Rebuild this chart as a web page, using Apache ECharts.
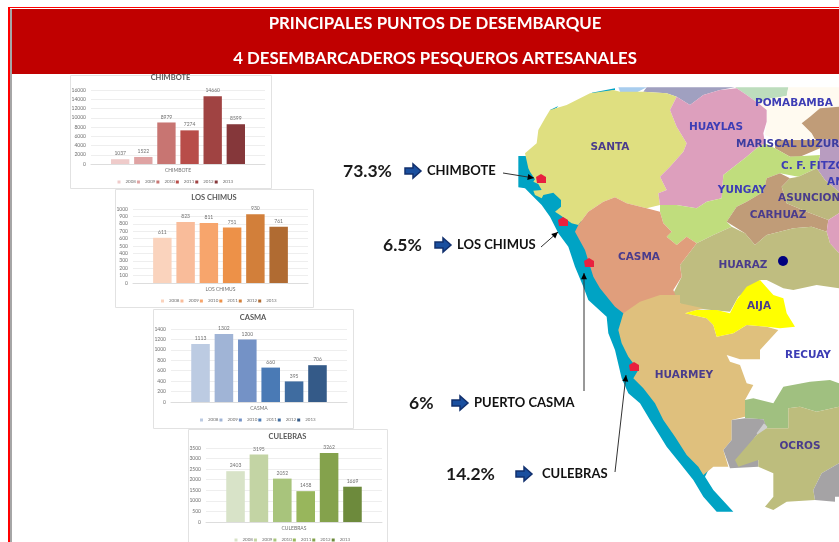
<!DOCTYPE html>
<html>
<head>
<meta charset="utf-8">
<style>
	html, body { margin: 0; padding: 0; background: #fff; overflow: hidden; }
	#main, #small { position: absolute; left: 0; top: 0; width: 839px; height: 542px; }
	#main { filter: blur(0.3px); }
	#small { filter: blur(0.6px); }
</style>
<script src="https://cdn.jsdelivr.net/npm/echarts@6/dist/echarts.min.js"></script>
</head>
<body>
<div id="main"></div>
<div id="small"></div>
<script>
var years = ['2008', '2009', '2010', '2011', '2012', '2013'];

var chimbote = [1037, 1522, 8979, 7274, 14660, 8599];
var losChimus = [611, 823, 811, 751, 930, 761];
var casma = [1113, 1302, 1200, 660, 395, 706];
var culebras = [2403, 3195, 2052, 1458, 3262, 1669];

var chimboteColors = ['#efcbca', '#dfa3a3', '#c87572', '#b84d49', '#a04342', '#85373a'];
var losChimusColors = ['#fad3bd', '#f9bc9a', '#f7a56c', '#ed9148', '#d27f3a', '#b06b32'];
var casmaColors = ['#bccbe2', '#a0b4d6', '#7492c6', '#4a7ab5', '#3f6ca0', '#345a88'];
var culebrasColors = ['#d8e3c8', '#c3d4a4', '#a8c47c', '#98b65c', '#84a24c', '#6d8a3c'];

// nombre, datos, colores, max, intervalo, caja [x, y, w, h], plot [x, y, w, h], y del titulo
var charts = [
	['CHIMBOTE', chimbote, chimboteColors, 16000, 2000, [70, 75, 201, 113], [91, 90, 174, 74], 78],
	['LOS CHIMUS', losChimus, losChimusColors, 1000, 100, [115, 189, 198, 118], [133, 209, 175, 74], 198],
	['CASMA', casma, casmaColors, 1400, 200, [153, 309, 200, 119], [171, 329, 176, 73], 318],
	['CULEBRAS', culebras, culebrasColors, 3500, 500, [188, 429, 199, 113], [206, 448, 176, 74], 437]
];

// regiones del mapa, trazadas sobre el recorte (origen 500,80, escala 3)
var regions = [
	['#00a3c4', [[55,228],[55,322],[75,325],[95,345],[125,375],[150,410],[175,460],[205,500],[225,560],[250,620],[265,660],[320,710],[325,760],[345,810],[365,895],[385,940],[420,970],[450,1020],[475,1060],[500,1100],[540,1150],[580,1200],[610,1250],[650,1295],[700,1295],[640,1230],[615,1190],[630,1160],[550,1060],[450,900],[420,800],[420,700],[300,560],[260,450],[230,400],[200,350],[120,260],[85,228]]],
	['#00a3c4', [[150,90],[175,78],[170,83],[150,95]]],
	['#00a3c4', [[275,38],[345,25],[345,30],[280,42]]],
	['#a8cdee', [[355,22],[440,22],[385,50],[360,35]]],
	['#a0a0c0', [[440,22],[705,22],[660,30],[610,45],[570,75],[530,50],[500,40],[430,35]]],
	['#bdddbd', [[705,22],[865,22],[860,48],[800,58],[775,70],[740,45],[710,25]]],
	['#fffaf0', [[865,22],[1017,22],[1017,80],[960,85],[930,110],[905,130],[935,160],[945,178],[830,180],[795,165],[800,125],[800,90],[775,70],[800,58],[860,48]]],
	['#c09c78', [[960,85],[1017,80],[1017,180],[945,178],[935,160],[905,130],[930,110]]],
	['#c09c78', [[825,180],[960,180],[960,205],[900,230],[870,230],[825,205]]],
	['#b89cc0', [[960,180],[1017,180],[1017,335],[975,300],[950,265],[960,225],[960,205]]],
	['#dfdf80', [[75,220],[110,190],[115,150],[135,115],[150,90],[200,75],[270,40],[340,30],[360,35],[430,35],[500,40],[530,50],[510,90],[530,140],[560,190],[550,215],[510,260],[480,290],[500,330],[475,340],[480,375],[440,385],[380,370],[345,352],[310,365],[265,395],[235,435],[215,430],[180,405],[165,395],[183,380],[183,360],[160,338],[130,345],[125,355],[105,345],[100,332],[125,330],[115,312],[100,305],[105,298],[90,275],[85,265]]],
	['#dd9fbd', [[530,50],[570,75],[610,45],[660,30],[710,25],[740,45],[775,70],[800,90],[800,125],[790,160],[795,190],[770,205],[740,230],[670,285],[665,355],[620,365],[590,385],[530,375],[480,375],[475,340],[500,330],[480,290],[510,260],[550,215],[560,190],[530,140],[510,90]]],
	['#c0dd7d', [[770,205],[795,190],[825,205],[870,230],[960,225],[950,265],[895,290],[840,280],[800,295],[790,335],[740,365],[710,380],[680,425],[695,440],[640,465],[590,490],[560,470],[530,495],[500,470],[515,455],[490,430],[480,395],[480,375],[530,375],[590,385],[620,365],[665,355],[670,285],[740,230]]],
	['#c09c78', [[840,280],[870,295],[845,320],[860,370],[920,395],[985,420],[980,455],[935,440],[880,445],[800,465],[765,495],[735,460],[680,425],[710,380],[740,365],[790,335],[800,295]]],
	['#bdb87e', [[895,290],[950,265],[975,300],[1017,335],[1017,400],[985,420],[920,395],[860,370],[845,320],[870,295]]],
	['#dd9fbd', [[985,420],[1017,400],[1017,520],[990,490],[980,455]]],
	['#bfbd80', [[590,490],[640,465],[695,440],[735,460],[765,495],[800,465],[880,445],[935,440],[980,455],[990,490],[1017,520],[1017,625],[950,615],[880,630],[850,625],[800,600],[780,600],[715,650],[690,695],[610,688],[555,690],[540,670],[520,640],[545,590],[540,555]]],
	['#e09e7c', [[235,435],[265,395],[310,365],[345,352],[380,370],[440,385],[480,395],[490,430],[515,455],[500,470],[530,495],[560,470],[590,490],[540,555],[545,590],[520,630],[540,680],[420,710],[370,700],[345,680],[300,625],[280,590],[255,510],[225,455]]],
	['#dfc07d', [[370,700],[420,665],[480,645],[540,645],[540,670],[610,685],[555,700],[620,715],[640,735],[650,770],[700,760],[740,735],[800,740],[835,750],[780,810],[780,838],[720,838],[680,825],[690,845],[720,855],[740,910],[760,915],[735,960],[735,1010],[695,1020],[695,1080],[670,1110],[685,1160],[640,1160],[610,1185],[595,1160],[560,1125],[525,1070],[490,1020],[465,970],[430,925],[400,895],[415,870],[385,830],[365,790],[355,750]]],
	['#ffff00', [[780,600],[820,645],[850,655],[860,700],[885,740],[840,745],[800,740],[740,735],[700,760],[650,770],[640,735],[620,715],[555,700],[590,690],[650,690],[690,700],[710,660],[740,620]]],
	['#a0c080', [[735,960],[760,955],[820,970],[850,920],[930,905],[990,900],[1017,910],[1017,980],[950,995],[900,980],[865,985],[865,1045],[800,1045],[790,1018],[735,1015]]],
	['#a5a3a5', [[695,1020],[735,1015],[790,1018],[800,1040],[770,1065],[715,1140],[775,1140],[775,1160],[690,1165],[670,1110],[695,1080]]],
	['#cfcfcf', [[770,1060],[792,1030],[802,1040],[795,1062],[775,1072]]],
	['#bdbd7d', [[865,985],[900,980],[950,995],[1017,980],[1017,1150],[965,1180],[940,1230],[945,1260],[860,1265],[820,1290],[795,1280],[820,1250],[820,1180],[775,1160],[775,1140],[715,1160],[705,1140],[770,1065],[800,1045],[865,1045]]],
	['#a5a3a5', [[1017,1150],[965,1180],[940,1230],[945,1260],[1005,1265],[1005,1250],[1017,1250]]]
];

// puntos de desembarque
var ports = [[541, 179], [563, 222], [589, 263], [634, 367]];

// rotulos de provincia: texto, x, y, alineacion, color
var mapLabels = [
	['SANTA', 610, 147, 'center', '#4a3c8c'], ['HUAYLAS', 716, 127, 'center', '#3d3db5'], ['POMABAMBA', 755, 103, 'left', '#3d3db5'],
	['MARISCAL LUZURIAGA', 736, 144, 'left', '#3d3da0'], ['C. F. FITZCARRALD', 781, 166, 'left', '#3d3db5'], ['YUNGAY', 742, 190, 'center', '#3d3db5'],
	['AN', 827, 182, 'left', '#3d3db5'], ['ASUNCION', 778, 198, 'left', '#4a3c8c'], ['CARHUAZ', 778, 215, 'center', '#4a3c8c'],
	['CASMA', 639, 257, 'center', '#4a3c8c'], ['HUARAZ', 743, 265, 'center', '#4a3c8c'], ['AIJA', 759, 306, 'center', '#4a3c8c'],
	['RECUAY', 808, 355, 'center', '#3d3db5'], ['HUARMEY', 684, 375, 'center', '#4a3c8c'], ['OCROS', 800, 446, 'center', '#4a3c8c']
];

// porcentaje, x, y, x flecha, nombre, x
var callouts = [
	['73.3%', 343, 171, 405, 'CHIMBOTE', 427],
	['6.5%', 383, 245, 435, 'LOS CHIMUS', 457],
	['6%', 409, 403, 452, 'PUERTO CASMA', 474],
	['14.2%', 446, 474, 516, 'CULEBRAS', 542]
];

// lineas con punta: [x1, y1, x2, y2]
var leaders = [
	[503, 173, 534, 178],
	[541, 247, 558, 232],
	[584, 391, 584, 273],
	[615, 472, 626, 375]
];

function toScreen(pts) {
	var out = [];
	for (var i = 0; i < pts.length; i++) {
		out.push([500 + pts[i][0] / 3, 80 + pts[i][1] / 3]);
	}
	return out;
}

function getGraphics() {
	var g = [];
	var i;
	// marco y cabecera
	g.push({ type: 'rect', shape: { x: 8, y: 7, width: 831, height: 535 }, style: { fill: '#ff0000' }, z: 0 });
	g.push({ type: 'rect', shape: { x: 10, y: 8, width: 829, height: 534 }, style: { fill: '#ffffff' }, z: 1 });
	g.push({ type: 'rect', shape: { x: 10, y: 9, width: 2, height: 533 }, style: { fill: '#a6a6a6' }, z: 1 });
	g.push({ type: 'rect', shape: { x: 12, y: 9, width: 827, height: 65 }, style: { fill: '#c00000' }, z: 5 });
	g.push({ type: 'text', x: 435, y: 24, style: { text: 'PRINCIPALES PUNTOS DE DESEMBARQUE', fill: '#ffffff', font: 'bold 16.8px Lato', align: 'center', verticalAlign: 'middle' }, z: 6 });
	g.push({ type: 'text', x: 435, y: 59, style: { text: '4 DESEMBARCADEROS PESQUEROS ARTESANALES', fill: '#ffffff', font: 'bold 16.8px Lato', align: 'center', verticalAlign: 'middle' }, z: 6 });
	// mapa
	for (i = 0; i < regions.length; i++) {
		g.push({ type: 'polygon', shape: { points: toScreen(regions[i][1]) }, style: { fill: regions[i][0] }, z: 2 });
	}
	g.push({ type: 'circle', shape: { cx: 783, cy: 261, r: 5 }, style: { fill: '#00007f' }, z: 3 });
	for (i = 0; i < ports.length; i++) {
		var p = ports[i];
		g.push({ type: 'polygon', shape: { points: [[p[0] - 5, p[1] - 2], [p[0], p[1] - 5], [p[0] + 5, p[1] - 2], [p[0] + 5, p[1] + 4], [p[0] - 4, p[1] + 4]] }, style: { fill: '#e8213f' }, z: 3 });
	}
	for (i = 0; i < mapLabels.length; i++) {
		var m = mapLabels[i];
		g.push({ type: 'text', x: m[1], y: m[2], style: { text: m[0], fill: m[4], font: 'bold 10.5px "DejaVu Sans"', align: m[3], verticalAlign: 'middle' }, z: 4 });
	}
	// llamadas
	for (i = 0; i < callouts.length; i++) {
		var c = callouts[i];
		var ax = c[3];
		var ay = c[2];
		g.push({ type: 'text', x: c[1], y: c[2], style: { text: c[0], fill: '#1a1a1a', font: 'bold 17.5px Lato', align: 'left', verticalAlign: 'middle' }, z: 4 });
		g.push({ type: 'text', x: c[5], y: c[2], style: { text: c[4], fill: '#111111', font: 'bold 13px Lato', align: 'left', verticalAlign: 'middle' }, z: 4 });
		g.push({ type: 'polygon', shape: { points: [[ax, ay - 3], [ax + 8, ay - 3], [ax + 8, ay - 7], [ax + 16, ay], [ax + 8, ay + 7], [ax + 8, ay + 3], [ax, ay + 3]] }, style: { fill: '#1a4f9f', stroke: '#12306e', lineWidth: 1.5 }, z: 4 });
	}
	for (i = 0; i < leaders.length; i++) {
		var l = leaders[i];
		var ang = Math.atan2(l[3] - l[1], l[2] - l[0]);
		var a1 = ang + 2.7;
		var a2 = ang - 2.7;
		g.push({ type: 'line', shape: { x1: l[0], y1: l[1], x2: l[2], y2: l[3] }, style: { stroke: '#333333', lineWidth: 1 }, z: 4 });
		g.push({ type: 'polygon', shape: { points: [[l[2], l[3]], [l[2] + 7 * Math.cos(a1), l[3] + 7 * Math.sin(a1)], [l[2] + 7 * Math.cos(a2), l[3] + 7 * Math.sin(a2)]] }, style: { fill: '#000000' }, z: 4 });
	}
	return g;
}

function getSmallOption() {
	var option = {
		animation: false,
		textStyle: { fontFamily: 'Lato' },
		title: [],
		legend: [],
		grid: [],
		xAxis: [],
		yAxis: [],
		series: [],
		graphic: []
	};
	for (var i = 0; i < charts.length; i++) {
		var ch = charts[i];
		var box = ch[5];
		var plot = ch[6];
		var legendData = [];
		option.graphic.push({ type: 'rect', shape: { x: box[0] + 0.5, y: box[1] + 0.5, width: box[2], height: box[3] }, style: { fill: '#ffffff', stroke: '#e2e2e2', lineWidth: 1 }, z: -1 });
		option.title.push({
			text: ch[0],
			left: box[0] + box[2] / 2,
			top: ch[7] - 4,
			padding: 0,
			textAlign: 'center',
			textStyle: { fontSize: 7.5, fontWeight: 'bold', color: '#595959' }
		});
		option.grid.push({ left: plot[0], top: plot[1], width: plot[2], height: plot[3], containLabel: false });
		option.xAxis.push({
			type: 'category',
			gridIndex: i,
			data: [ch[0]],
			axisTick: { show: false },
			axisLine: { lineStyle: { color: '#dddddd' } },
			axisLabel: { fontSize: 5, color: '#707070', margin: 4 }
		});
		option.yAxis.push({
			type: 'value',
			gridIndex: i,
			min: 0,
			max: ch[3],
			interval: ch[4],
			axisLine: { show: false },
			axisTick: { show: false },
			splitLine: { lineStyle: { color: '#eeeeee', width: 1 } }, // lineas de fondo
			axisLabel: {
				fontSize: 5,
				color: '#707070',
				margin: 5,
				formatter: function(v) {
					return String(v);
				}
			}
		});
		for (var j = 0; j < years.length; j++) {
			option.series.push({
				name: years[j],
				type: 'bar',
				xAxisIndex: i,
				yAxisIndex: i,
				data: [ch[1][j]],
				barGap: '26%',
				barCategoryGap: '23%',
				itemStyle: { color: ch[2][j] },
				label: { show: true, position: 'top', distance: 3, fontSize: 5, color: '#707070' }
			});
			legendData.push({ name: years[j], itemStyle: { color: ch[2][j] } });
		}
		option.legend.push({
			data: legendData,
			left: box[0] + box[2] / 2 - 53,
			top: plot[1] + plot[3] + 15.5,
			itemWidth: 3,
			itemHeight: 3,
			itemGap: 1,
			icon: 'rect',
			padding: 0,
			selectedMode: false,
			textStyle: { fontSize: 4.5, color: '#707070' }
		});
	}
	return option;
}

var myChart = echarts.init(document.getElementById('main'));
myChart.setOption({ animation: false, graphic: getGraphics() });
var smallChart = echarts.init(document.getElementById('small'));
smallChart.setOption(getSmallOption());
</script>
</body>
</html>
